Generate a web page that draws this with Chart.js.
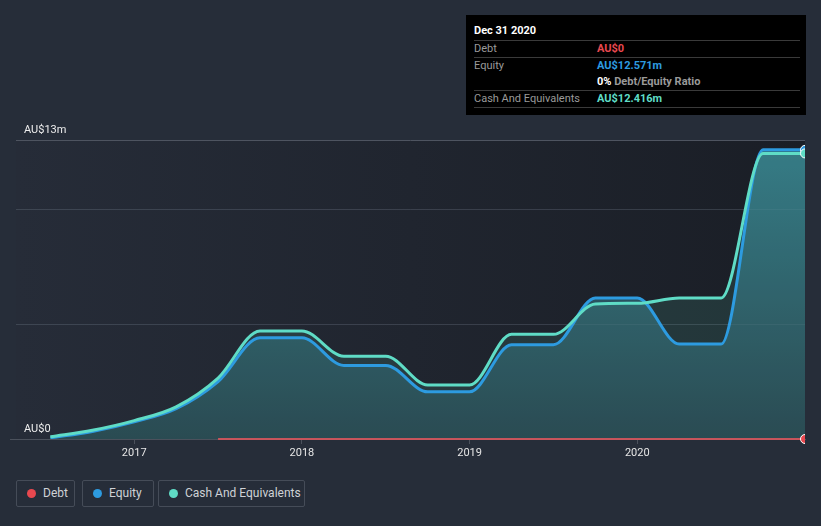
<!DOCTYPE html>
<html>
<head>
<meta charset="utf-8">
<script src="https://cdn.jsdelivr.net/npm/chart.js@4.4.1/dist/chart.umd.min.js"></script>
<style>
  html, body { margin: 0; padding: 0; background: #262d39; width: 821px; height: 526px; overflow: hidden; font-family: Roboto, "Open Sans", sans-serif; }
  #wrap { position: absolute; left: 0; top: 0; width: 821px; height: 470px; }
  #tip { position: absolute; left: 466px; top: 15px; width: 340px; height: 100px; background: #000; font-size: 11px; color: #9a9a9a; }
  #tip .title { position: absolute; left: 8px; top: 9px; color: #fff; font-weight: bold; font-size: 11px; }
  #tip .sep { position: absolute; left: 8px; width: 326px; height: 1px; background: #3a3a3a; }
  #tip .lab { position: absolute; left: 8px; }
  #tip .val { position: absolute; left: 131px; font-weight: bold; }
  #legend { position: absolute; left: 16px; top: 480px; height: 27px; }
  .lg { position: absolute; top: 0; height: 25px; border: 1px solid #454c58; border-radius: 2px; color: #cfd2d6; font-size: 12px; line-height: 25px; box-sizing: content-box; }
  .lg .dot { position: absolute; top: 8px; width: 9px; height: 9px; border-radius: 50%; }
  .lg span.t { position: absolute; top: 0; white-space: nowrap; }
</style>
</head>
<body>
<div id="wrap"><canvas id="c" width="821" height="470"></canvas></div>
<div id="tip">
  <div class="title">Dec 31 2020</div>
  <div class="sep" style="top:25px"></div>
  <div class="lab" style="top:27px">Debt</div>
  <div class="val" style="top:27px;color:#e8484f">AU$0</div>
  <div class="sep" style="top:42px"></div>
  <div class="lab" style="top:44px">Equity</div>
  <div class="val" style="top:44px;color:#2d9be0">AU$12.571m</div>
  <div class="val" style="top:60px;color:#9a9a9a"><span style="color:#fff">0%</span> Debt/Equity Ratio</div>
  <div class="sep" style="top:75px"></div>
  <div class="lab" style="top:77px">Cash And Equivalents</div>
  <div class="val" style="top:77px;color:#5fdcc6">AU$12.416m</div>
  <div class="sep" style="top:92px"></div>
</div>
<div id="legend">
  <div class="lg" style="left:0;width:57px"><div class="dot" style="left:10px;background:#e8484f"></div><span class="t" style="left:26px">Debt</span></div>
  <div class="lg" style="left:66px;width:70px"><div class="dot" style="left:10px;background:#2d9be0"></div><span class="t" style="left:26px">Equity</span></div>
  <div class="lg" style="left:142px;width:145px"><div class="dot" style="left:10px;background:#5fdcc6"></div><span class="t" style="left:26px">Cash And Equivalents</span></div>
</div>
<script>
// decimal-year dates of the reports
const dates = [2016.5, 2016.75, 2017.0, 2017.25, 2017.5, 2017.75, 2018.0, 2018.25, 2018.5, 2018.75, 2019.0, 2019.25, 2019.5, 2019.75, 2020.0, 2020.25, 2020.5, 2020.75, 2021.0];
// values in AU$ millions
const cashValues   = [0.1, 0.38, 0.8, 1.4, 2.65, 4.7, 4.7, 3.6, 3.6, 2.35, 2.35, 4.55, 4.55, 5.87, 5.9, 6.13, 6.13, 12.416, 12.416];
const equityValues = [0.05, 0.33, 0.75, 1.32, 2.5, 4.4, 4.4, 3.2, 3.2, 2.05, 2.05, 4.1, 4.1, 6.13, 6.13, 4.13, 4.13, 12.571, 12.571];
const debtDates  = [2017.5, 2018.0, 2018.5, 2019.0, 2019.5, 2020.0, 2020.5, 2021.0];
const debtValues = [0, 0, 0, 0, 0, 0, 0, 0];
const yearTicks = [2017, 2018, 2019, 2020];
const yTicks = [0, 5, 10, 13];
const yLabels = { 0: 'AU$0', 13: 'AU$13m' };

const toPts = (xs, ys) => xs.map((x, i) => ({ x: x, y: ys[i] }));
const lastOnly = (n, r) => (ctx) => ctx.dataIndex === n - 1 ? r : 0;

const bgPlugin = {
  id: 'bg',
  beforeDraw(chart) {
    const { ctx, chartArea: a } = chart;
    ctx.save();
    const g = ctx.createLinearGradient(a.left, 0, a.right, 0);
    g.addColorStop(0, '#262c38');
    g.addColorStop(1, '#1a1e26');
    ctx.fillStyle = g;
    ctx.fillRect(a.left, a.top, a.right - a.left, a.bottom - a.top);
    ctx.restore();
  },
  afterDatasetsDraw(chart) {
    // faint gridlines also visible over the filled areas
    const { ctx, chartArea: a } = chart;
    const y = chart.scales.y;
    ctx.save();
    ctx.strokeStyle = 'rgba(150,170,185,0.10)';
    ctx.lineWidth = 1;
    [5, 10].forEach(v => {
      const py = Math.round(y.getPixelForValue(v)) + 0.5;
      ctx.beginPath();
      ctx.moveTo(a.left, py);
      ctx.lineTo(a.right, py);
      ctx.stroke();
    });
    ctx.restore();
  },
  afterDraw(chart) {
    const { ctx, chartArea: a } = chart;
    const y = chart.scales.y;
    ctx.save();
    ctx.strokeStyle = '#4b515c';
    ctx.lineWidth = 1;
    ctx.beginPath();
    ctx.moveTo(10, a.bottom + 0.5);
    ctx.lineTo(a.left + 1, a.bottom + 0.5);
    ctx.stroke();
    ctx.fillStyle = '#eeeeee';
    ctx.font = '11px Roboto';
    ctx.textBaseline = 'alphabetic';
    Object.keys(yLabels).forEach(v => {
      const py = y.getPixelForValue(Number(v));
      ctx.fillText(yLabels[v], 24, py - 7);
    });
    ctx.restore();
  }
};

new Chart(document.getElementById('c'), {
  type: 'line',
  data: {
    datasets: [
      {
        label: 'Debt',
        data: toPts(debtDates, debtValues),
        borderColor: 'rgba(215,85,92,0.9)',
        borderWidth: 2,
        fill: false,
        pointRadius: lastOnly(debtDates.length, 4.5),
        pointBackgroundColor: '#e8484f',
        pointBorderColor: '#ffffff',
        pointBorderWidth: 1,
        clip: { left: 0, top: 8, right: 0, bottom: 8 },
        order: 0
      },
      {
        label: 'Equity',
        data: toPts(dates, equityValues),
        borderColor: '#2d9be0',
        borderWidth: 3,
        cubicInterpolationMode: 'monotone',
        fill: 'origin',
        backgroundColor: (ctx) => {
          const a = ctx.chart.chartArea;
          if (!a) return '#2a5060';
          const g = ctx.chart.ctx.createLinearGradient(0, a.top, 0, a.bottom);
          g.addColorStop(0, '#307080');
          g.addColorStop(1, '#233744');
          return g;
        },
        pointRadius: lastOnly(dates.length, 4.5),
        pointBackgroundColor: '#2d9be0',
        pointBorderColor: '#ffffff',
        pointBorderWidth: 1,
        clip: { left: 0, top: 8, right: 0, bottom: 0 },
        order: 2
      },
      {
        label: 'Cash And Equivalents',
        data: toPts(dates, cashValues),
        borderColor: '#5fdcc6',
        borderWidth: 3,
        cubicInterpolationMode: 'monotone',
        fill: 'origin',
        backgroundColor: 'rgba(95,220,190,0.12)',
        pointRadius: lastOnly(dates.length, 4.5),
        pointBackgroundColor: '#5fdcc6',
        pointBorderColor: '#ffffff',
        pointBorderWidth: 1,
        clip: { left: 0, top: 8, right: 0, bottom: 0 },
        order: 1
      }
    ]
  },
  options: {
    responsive: false,
    animation: false,
    layout: { padding: { left: 16, right: 16, top: 140, bottom: 0 } },
    plugins: {
      legend: { display: false },
      tooltip: { enabled: false },
      filler: { drawTime: 'beforeDatasetsDraw' }
    },
    scales: {
      x: {
        type: 'linear',
        min: 2016.295,
        max: 2021.0,
        afterBuildTicks: (s) => { s.ticks = yearTicks.map(v => ({ value: v })); },
        afterFit: (s) => { s.height = 31; },
        grid: { drawOnChartArea: false, drawTicks: true, tickLength: 5, color: '#4b515c' },
        border: { display: true, color: '#4b515c', width: 1 },
        ticks: { color: '#e6e6e6', font: { family: 'Roboto', size: 11 }, padding: 3, maxRotation: 0, callback: (v) => String(v) }
      },
      y: {
        min: 0,
        max: 13,
        afterBuildTicks: (s) => { s.ticks = yTicks.map(v => ({ value: v })); },
        afterFit: (s) => { s.width = 0; },
        grid: {
          drawTicks: false,
          color: (c) => c.tick && c.tick.value === 13 ? '#4e5460' : (c.tick && c.tick.value === 0 ? 'rgba(0,0,0,0)' : 'rgba(120,130,145,0.18)')
        },
        border: { display: false },
        ticks: { display: false }
      }
    }
  },
  plugins: [bgPlugin]
});
</script>
</body>
</html>
